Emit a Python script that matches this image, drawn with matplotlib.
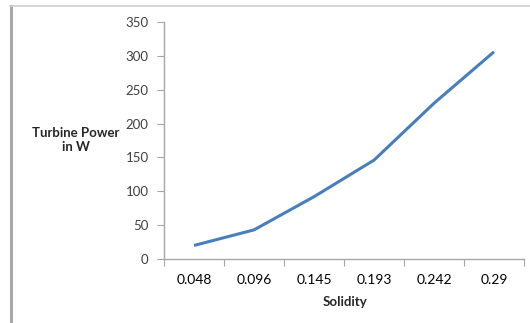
import numpy as np
import matplotlib
matplotlib.use("Agg")
from matplotlib import pyplot as plt
from matplotlib.lines import Line2D

solidity = ["0.048", "0.096", "0.145", "0.193", "0.242", "0.29"]
power = [20, 43, 92, 146, 230, 306]
yticks = [0, 50, 100, 150, 200, 250, 300, 350]

plt.rcParams['font.family'] = ['Lato', 'DejaVu Sans']

W, H = 530, 323
fig = plt.figure(figsize=(W / 100, H / 100), dpi=100)
ax = fig.add_axes([164 / W, 1 - 259 / H, (524 - 164) / W, (259 - 22) / H])

x = np.arange(len(solidity))
ax.plot(x, power, color="#4a7ebb", lw=2.2, solid_capstyle="butt")

ax.set_xlim(-0.5, len(solidity) - 0.5)
ax.set_ylim(0, 350)
ax.set_yticks(yticks)
ax.set_yticklabels([str(v) for v in yticks])

# category axis: ticks between categories, labels at centres
ax.set_xticks(np.arange(len(solidity) + 1) - 0.5)
ax.set_xticklabels([])
ax.set_xticks(x, minor=True)
ax.set_xticklabels(solidity, minor=True)
ax.tick_params(axis="x", which="minor", length=0, pad=11)
ax.tick_params(axis="x", which="major", length=5, color="#a6a6a6", direction="out")
ax.tick_params(axis="y", length=5, color="#a6a6a6", direction="out", pad=6)
ax.tick_params(labelsize=9.5, labelcolor="#404040")

for s in ["top", "right"]:
    ax.spines[s].set_visible(False)
for s in ["left", "bottom"]:
    ax.spines[s].set_color("#a6a6a6")
    ax.spines[s].set_linewidth(1)

fig.text(76 / W, 1 - 140 / H, "Turbine Power\nin W", ha="center", va="center",
         fontsize=9.5, fontweight="bold", color="#262626", linespacing=1.25)
fig.text(345 / W, 1 - 302 / H, "Solidity", ha="center", va="center",
         fontsize=9.5, fontweight="bold", color="#262626")

# page-ish border at left and top
fig.add_artist(Line2D([11 / W, 11 / W], [0, 1 - 6 / H], color="#a8a8a8", lw=2.2,
                      transform=fig.transFigure))
fig.add_artist(Line2D([10 / W, 1], [1 - 6 / H, 1 - 6 / H], color="#cfcfcf", lw=1.2,
                      transform=fig.transFigure))

fig.savefig("out.png", dpi=100)
